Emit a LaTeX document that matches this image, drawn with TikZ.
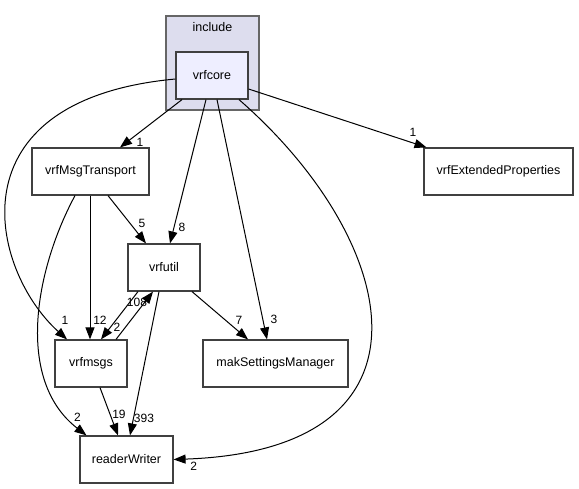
\documentclass[tikz,border=0pt]{standalone}
\usepackage{fontspec}
\setmainfont{Liberation Sans}
\usetikzlibrary{arrows.meta}
\definecolor{clusterFill}{HTML}{DDDDEE}
\definecolor{coreFill}{HTML}{EEEEFF}
\tikzstyle{recNode} = [rectangle, minimum height=47pt, text centered, draw=black!75, line width=1.2pt, fill=white, font=\fontsize{12.5}{14}\selectfont]
\tikzstyle{recNodeC} = [recNode, fill=coreFill]
\tikzstyle{clusterNode} = [rectangle, draw=black!60, line width=1.2pt, fill=clusterFill]
\tikzstyle{eNode} = [font=\fontsize{12.5}{14}\selectfont]
\tikzstyle{cntLabel} = [inner sep=0pt, font=\fontsize{12}{14}\selectfont]
\tikzstyle{arrow} = [line width=1pt, ->, >={Triangle[length=12pt,width=9pt]}, draw=black]

\begin{document}
\begin{tikzpicture}[x=1pt, y=-1pt, node distance=96pt]
        \useasboundingbox (0,0) rectangle (579,489);
        \node (include) [clusterNode, minimum width=93pt, minimum height=94pt] at (212.5,63) {};
        \node (includeLbl) [eNode] at (212.5,27) {include};
        \node (core) [recNodeC, minimum width=72pt] at (212,75.5) {vrfcore};
        \node (msgtr) [recNode, below of=core, xshift=-121.5pt, minimum width=117pt] {vrfMsgTransport};
        \node (util) [recNode, below of=msgtr, xshift=73.5pt, minimum width=72pt] {vrfutil};
        \node (msgs) [recNode, below of=util, xshift=-73pt, minimum width=72pt] {vrfmsgs};
        \node (mak) [recNode, right of=msgs, xshift=88.5pt, minimum width=145pt] {makSettingsManager};
        \node (rw) [recNode, below of=msgs, xshift=35.5pt, minimum width=93pt] {readerWriter};
        \node (ext) [recNode, right of=msgtr, xshift=312pt, minimum width=149pt] {vrfExtendedProperties};

        \draw [arrow] ([xshift=-30pt]core.south) -- node[cntLabel, at end, xshift=20pt, yshift=5pt] {1} ([xshift=29.5pt]msgtr.north);
        \draw [arrow] ([xshift=-6pt]core.south) -- node[cntLabel, at end, xshift=12pt, yshift=16pt] {8} ([xshift=6pt]util.north);
        \draw [arrow] ([xshift=5pt]core.south) -- node[cntLabel, at end, xshift=7pt, yshift=20.5pt] {3} ([xshift=-8.5pt]mak.north);
        \draw [arrow] ([xshift=27pt]core.south) .. controls (400,240) and (450,450) .. node[cntLabel, at end, xshift=20pt, yshift=-7pt] {2} (rw.east);
        \draw [arrow] ([yshift=-13.5pt]core.east) -- node[cntLabel, at end, xshift=-13.5pt, yshift=15.5pt] {1} ([xshift=-72pt]ext.north);
        \draw [arrow] ([yshift=-3.5pt]core.west) .. controls (-50,100) and (-10,270) .. node[cntLabel, at end, xshift=-2pt, yshift=19pt] {1} ([xshift=-24pt]msgs.north);

        \draw [arrow] ([xshift=17.5pt]msgtr.south) -- node[cntLabel, at end, xshift=-4pt, yshift=20pt] {5} ([xshift=-18pt]util.north);
        \draw [arrow] ([xshift=-0.5pt]msgtr.south) -- node[cntLabel, at end, xshift=10pt, yshift=19pt] {12} ([xshift=-1pt]msgs.north);
        \draw [arrow] ([xshift=-15.5pt]msgtr.south) .. controls (35,270) and (15,380) .. node[cntLabel, at end, xshift=-9pt, yshift=18pt] {2} ([xshift=-40pt]rw.north);

        \draw [arrow] ([xshift=-26pt]util.south) -- node[cntLabel, at end, xshift=36pt, yshift=37pt] {108} ([xshift=10pt]msgs.north);
        \draw [arrow] ([xshift=25pt]msgs.north) -- node[cntLabel, at end, xshift=-36pt, yshift=-36pt] {2} ([xshift=-11pt]util.south);
        \draw [arrow] ([xshift=28pt]util.south) -- node[cntLabel, at end, xshift=-9pt, yshift=19.5pt] {7} ([xshift=-27.5pt]mak.north);
        \draw [arrow] ([xshift=-5pt]util.south) -- node[cntLabel, at end, xshift=14pt, yshift=17.5pt] {393} ([xshift=3.5pt]rw.north);
        \draw [arrow] ([xshift=9pt]msgs.south) -- node[cntLabel, at end, xshift=1pt, yshift=21pt] {19} ([xshift=-8.5pt]rw.north);
\end{tikzpicture}
\end{document}
